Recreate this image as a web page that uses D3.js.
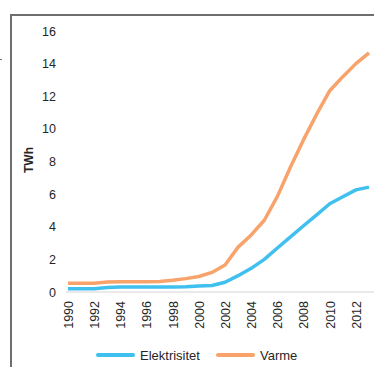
<!DOCTYPE html>
<html><head><meta charset="utf-8">
<script src="https://cdn.jsdelivr.net/npm/d3@7"></script>
<style>
html,body{margin:0;padding:0;background:#fff;}
svg{display:block;}
text{font-family:"Liberation Sans Narrow","Liberation Sans",sans-serif;fill:#262626;}
</style></head>
<body>
<svg id="chart" width="374" height="367"></svg>
<script>
const years = [1990,1991,1992,1993,1994,1995,1996,1997,1998,1999,2000,2001,2002,2003,2004,2005,2006,2007,2008,2009,2010,2011,2012,2013];
const elektrisitet = [0.2,0.2,0.2,0.27,0.3,0.3,0.3,0.3,0.3,0.32,0.37,0.4,0.6,1.0,1.45,2.0,2.7,3.38,4.06,4.73,5.41,5.84,6.26,6.43];
const varme = [0.53,0.53,0.53,0.62,0.63,0.63,0.63,0.65,0.72,0.82,0.95,1.2,1.65,2.75,3.5,4.4,5.86,7.66,9.34,10.9,12.34,13.2,14.0,14.66];
const xTickLabels = [1990,1992,1994,1996,1998,2000,2002,2004,2006,2008,2010,2012];
const yTickLabels = [0,2,4,6,8,10,12,14,16];
const seriesNames = ["Elektrisitet","Varme"];
const seriesColors = ["#3fc0ef","#f8a36b"];

const svg = d3.select("#chart");

// frame lines
svg.append("line").attr("x1",10).attr("x2",374).attr("y1",15).attr("y2",15)
  .attr("stroke","#6e6e6e").attr("stroke-width",2);
svg.append("line").attr("x1",11).attr("x2",11).attr("y1",14).attr("y2",367)
  .attr("stroke","#6e6e6e").attr("stroke-width",2);
svg.append("line").attr("x1",0).attr("x2",2).attr("y1",59.5).attr("y2",59.5)
  .attr("stroke","#777").attr("stroke-width",1);

const x = d3.scaleLinear().domain([1990,2013]).range([68,369]);
const y = d3.scaleLinear().domain([0,16]).range([292,31]);

// baseline
svg.append("line").attr("x1",66).attr("x2",374).attr("y1",y(0)).attr("y2",y(0))
  .attr("stroke","#d4d4d4").attr("stroke-width",1);

// y axis
const yAxis = svg.append("g").attr("transform","translate(56,0)")
  .call(d3.axisLeft(y).tickValues(yTickLabels).tickSize(0).tickPadding(0).tickFormat(d3.format("d")));
yAxis.select(".domain").remove();
yAxis.selectAll("text").attr("font-size",12.5).style("font-family",'"Liberation Sans Narrow",sans-serif').attr("fill","#262626");

// x axis
const xAxis = svg.append("g").attr("transform",`translate(0,${y(0)})`)
  .call(d3.axisBottom(x).tickValues(xTickLabels).tickSize(0).tickFormat(d3.format("d")));
xAxis.select(".domain").remove();
xAxis.selectAll("text")
  .attr("font-size",12.5).style("font-family",'"Liberation Sans Narrow",sans-serif').attr("fill","#262626")
  .attr("text-anchor","end").attr("dy","0.35em").attr("y",0)
  .attr("transform","translate(0,9) rotate(-90)");

// y title
svg.append("text").attr("transform","translate(33,160) rotate(-90)")
  .attr("text-anchor","middle").attr("font-size",12).attr("font-weight","bold")
  .style("font-family",'"Liberation Sans",sans-serif').text("TWh");

// lines
const series = [elektrisitet, varme];
const line = d3.line().x((d,i)=>x(years[i])).y(d=>y(d));
series.forEach((s,k)=>{
  svg.append("path").datum(s).attr("d",line).attr("fill","none")
    .attr("stroke",seriesColors[k]).attr("stroke-width",3.5)
    .attr("stroke-linejoin","round").attr("stroke-linecap","butt");
});

// legend
const legX = [98,218];
seriesNames.forEach((n,k)=>{
  svg.append("line").attr("x1",legX[k]).attr("x2",legX[k]+35).attr("y1",355).attr("y2",355)
    .attr("stroke",seriesColors[k]).attr("stroke-width",4).attr("stroke-linecap","round");
  svg.append("text").attr("x",legX[k]+42).attr("y",359.5).attr("font-size",13)
    .style("font-family",'"Liberation Sans Narrow",sans-serif').text(n);
});
</script>
</body></html>
